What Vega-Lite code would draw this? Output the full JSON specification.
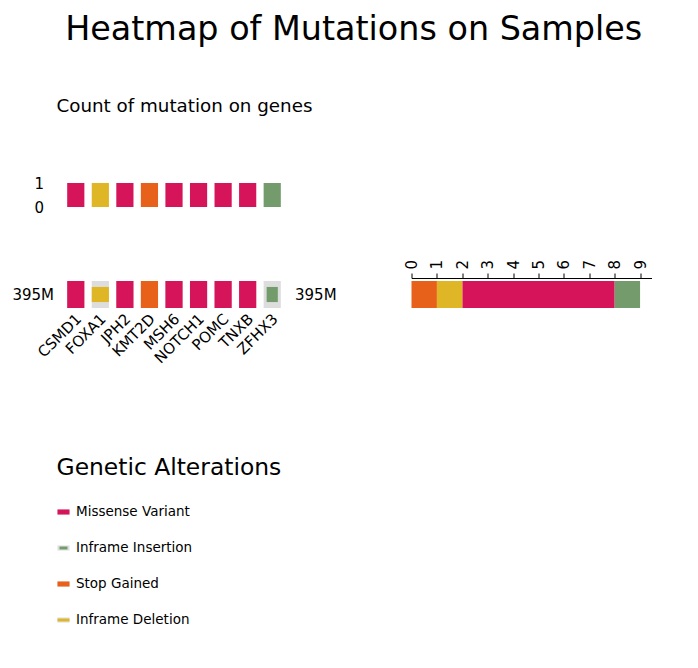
{
  "$schema": "https://vega.github.io/schema/vega-lite/v6.json",
  "description": "Oncoprint-style heatmap of mutations for sample 395M",
  "padding": {"left": 11.5, "top": 13, "right": 10, "bottom": 10},
  "title": {
    "text": "Heatmap of Mutations on Samples",
    "fontSize": 33.4,
    "fontWeight": "normal",
    "font": "DejaVu Sans",
    "color": "black",
    "anchor": "middle",
    "offset": 49,
    "dx": 22
  },
  "datasets": {
    "genes": [
      {"sample": "395M", "gene": "CSMD1", "alteration": "Missense Variant"},
      {"sample": "395M", "gene": "FOXA1", "alteration": "Inframe Deletion"},
      {"sample": "395M", "gene": "JPH2", "alteration": "Missense Variant"},
      {"sample": "395M", "gene": "KMT2D", "alteration": "Stop Gained"},
      {"sample": "395M", "gene": "MSH6", "alteration": "Missense Variant"},
      {"sample": "395M", "gene": "NOTCH1", "alteration": "Missense Variant"},
      {"sample": "395M", "gene": "POMC", "alteration": "Missense Variant"},
      {"sample": "395M", "gene": "TNXB", "alteration": "Missense Variant"},
      {"sample": "395M", "gene": "ZFHX3", "alteration": "Inframe Insertion"}
    ],
    "alterations": [
      {"alteration": "Missense Variant"},
      {"alteration": "Inframe Insertion"},
      {"alteration": "Stop Gained"},
      {"alteration": "Inframe Deletion"}
    ]
  },
  "config": {
    "font": "DejaVu Sans",
    "view": {"stroke": null},
    "axis": {
      "labelFont": "DejaVu Sans",
      "labelFontSize": 15,
      "labelColor": "black",
      "grid": false,
      "title": null
    },
    "title": {"font": "DejaVu Sans", "color": "black", "fontWeight": "normal"}
  },
  "spacing": 89,
  "vconcat": [
    {
      "spacing": 44,
      "vconcat": [
        {
          "data": {"name": "genes"},
          "width": 221,
          "height": 24,
          "title": {
            "text": "Count of mutation on genes",
            "anchor": "start",
            "frame": "group",
            "fontSize": 18.3,
            "offset": 60,
            "dx": -7
          },
          "mark": {"type": "bar"},
          "encoding": {
            "x": {
              "field": "gene",
              "type": "nominal",
              "axis": null,
              "scale": {"paddingInner": 0.3, "paddingOuter": 0.15}
            },
            "y": {
              "aggregate": "count",
              "type": "quantitative",
              "scale": {"domain": [0, 1]},
              "axis": {"values": [0, 1], "format": "d", "ticks": false, "domain": false, "labelPadding": 20}
            },
            "color": {
              "field": "alteration",
              "type": "nominal",
              "scale": {
                "domain": ["Stop Gained", "Inframe Deletion", "Missense Variant", "Inframe Insertion"],
                "range": ["#e8611a", "#dfb626", "#d61459", "#739b6b"]
              },
              "legend": null
            }
          }
        },
        {
          "spacing": 68,
          "hconcat": [
            {
              "data": {"name": "genes"},
              "width": 221,
              "height": 27,
              "encoding": {
                "x": {
                  "field": "gene",
                  "type": "nominal",
                  "scale": {"paddingInner": 0.3, "paddingOuter": 0.15},
                  "axis": {
                    "labelAngle": -45,
                    "labelAlign": "right",
                    "labelBaseline": "middle",
                    "ticks": false,
                    "domain": false,
                    "labelPadding": 8,
                    "labelOffset": 3
                  }
                },
                "y": {
                  "field": "sample",
                  "type": "nominal",
                  "scale": {"paddingInner": 0, "paddingOuter": 0},
                  "axis": null
                },
                "color": {
                  "field": "alteration",
                  "type": "nominal",
                  "scale": {
                    "domain": ["Stop Gained", "Inframe Deletion", "Missense Variant", "Inframe Insertion"],
                    "range": ["#e8611a", "#dfb626", "#d61459", "#739b6b"]
                  },
                  "legend": null
                }
              },
              "layer": [
                {
                  "mark": {"type": "bar"},
                  "encoding": {
                    "color": {"value": "#dddddd"},
                    "y": {
                      "field": "sample",
                      "type": "nominal",
                      "axis": {"ticks": false, "domain": false, "labelPadding": 10}
                    }
                  }
                },
                {
                  "transform": [{"filter": {"field": "alteration", "oneOf": ["Missense Variant", "Stop Gained"]}}],
                  "mark": {"type": "bar"}
                },
                {
                  "transform": [{"filter": {"field": "alteration", "equal": "Inframe Deletion"}}],
                  "mark": {"type": "bar", "height": {"band": 0.56}}
                },
                {
                  "transform": [{"filter": {"field": "alteration", "equal": "Inframe Insertion"}}],
                  "mark": {"type": "bar", "width": {"band": 0.65}, "height": {"band": 0.56}}
                },
                {
                  "mark": {"type": "bar", "opacity": 0},
                  "encoding": {
                    "y": {
                      "field": "sample",
                      "type": "nominal",
                      "axis": {"orient": "right", "ticks": false, "domain": false, "labelPadding": 10}
                    }
                  }
                }
              ],
              "resolve": {"axis": {"y": "independent"}}
            },
            {
              "data": {"name": "genes"},
              "transform": [
                {
                  "lookup": "alteration",
                  "from": {
                    "data": {
                      "values": [
                        {"alteration": "Stop Gained", "stack_order": 1},
                        {"alteration": "Inframe Deletion", "stack_order": 2},
                        {"alteration": "Missense Variant", "stack_order": 3},
                        {"alteration": "Inframe Insertion", "stack_order": 4}
                      ]
                    },
                    "key": "alteration",
                    "fields": ["stack_order"]
                  }
                }
              ],
              "width": 240,
              "height": 27,
              "mark": {"type": "bar"},
              "encoding": {
                "x": {
                  "aggregate": "count",
                  "type": "quantitative",
                  "stack": "zero",
                  "scale": {"domain": [0, 9.45], "nice": false},
                  "axis": {
                    "orient": "top",
                    "values": [0, 1, 2, 3, 4, 5, 6, 7, 8, 9],
                    "labelAngle": -90,
                    "labelAlign": "left",
                    "labelBaseline": "middle",
                    "offset": 3,
                    "tickSize": 5,
                    "labelPadding": 4,
                    "domainColor": "black",
                    "tickColor": "black",
                    "labelFlush": false,
                    "labelOverlap": false
                  }
                },
                "y": {
                  "field": "sample",
                  "type": "nominal",
                  "scale": {"paddingInner": 0, "paddingOuter": 0},
                  "axis": null
                },
                "order": {"field": "stack_order", "type": "quantitative", "aggregate": "min"},
                "color": {
                  "field": "alteration",
                  "type": "nominal",
                  "scale": {
                    "domain": ["Stop Gained", "Inframe Deletion", "Missense Variant", "Inframe Insertion"],
                    "range": ["#e8611a", "#dfb626", "#d61459", "#739b6b"]
                  },
                  "legend": null
                }
              }
            }
          ]
        }
      ]
    },
    {
      "data": {"name": "alterations"},
      "width": 12,
      "height": 144,
      "title": {
        "text": "Genetic Alterations",
        "anchor": "start",
        "frame": "group",
        "fontSize": 23.4,
        "offset": 14,
        "dx": -7
      },
      "encoding": {
        "y": {
          "field": "alteration",
          "type": "nominal",
          "sort": null,
          "scale": {"paddingInner": 0, "paddingOuter": 0},
          "axis": null
        },
        "x": {"datum": 0, "type": "quantitative", "scale": {"domain": [0.5, 1.5]}, "axis": null},
        "x2": {"datum": 1},
        "color": {
          "field": "alteration",
          "type": "nominal",
          "scale": {
            "domain": ["Stop Gained", "Inframe Deletion", "Missense Variant", "Inframe Insertion"],
            "range": ["#e8611a", "#dfb626", "#d61459", "#739b6b"]
          },
          "legend": null
        }
      },
      "layer": [
        {
          "mark": {"type": "bar", "height": {"band": 0.14}},
          "encoding": {
            "color": {"value": "#dddddd"},
            "y": {
              "field": "alteration",
              "type": "nominal",
              "sort": null,
              "axis": {"orient": "right", "ticks": false, "domain": false, "labelPadding": 0, "labelFontSize": 13.5}
            }
          }
        },
        {
          "transform": [{"filter": {"field": "alteration", "oneOf": ["Missense Variant", "Stop Gained"]}}],
          "mark": {"type": "bar", "height": {"band": 0.14}}
        },
        {
          "transform": [{"filter": {"field": "alteration", "equal": "Inframe Insertion"}}],
          "mark": {"type": "bar", "height": {"band": 0.08}},
          "encoding": {"x": {"datum": 0.17, "type": "quantitative"}, "x2": {"datum": 0.83}}
        },
        {
          "transform": [{"filter": {"field": "alteration", "equal": "Inframe Deletion"}}],
          "mark": {"type": "bar", "height": {"band": 0.08}}
        }
      ],
      "resolve": {"axis": {"y": "independent"}}
    }
  ]
}
